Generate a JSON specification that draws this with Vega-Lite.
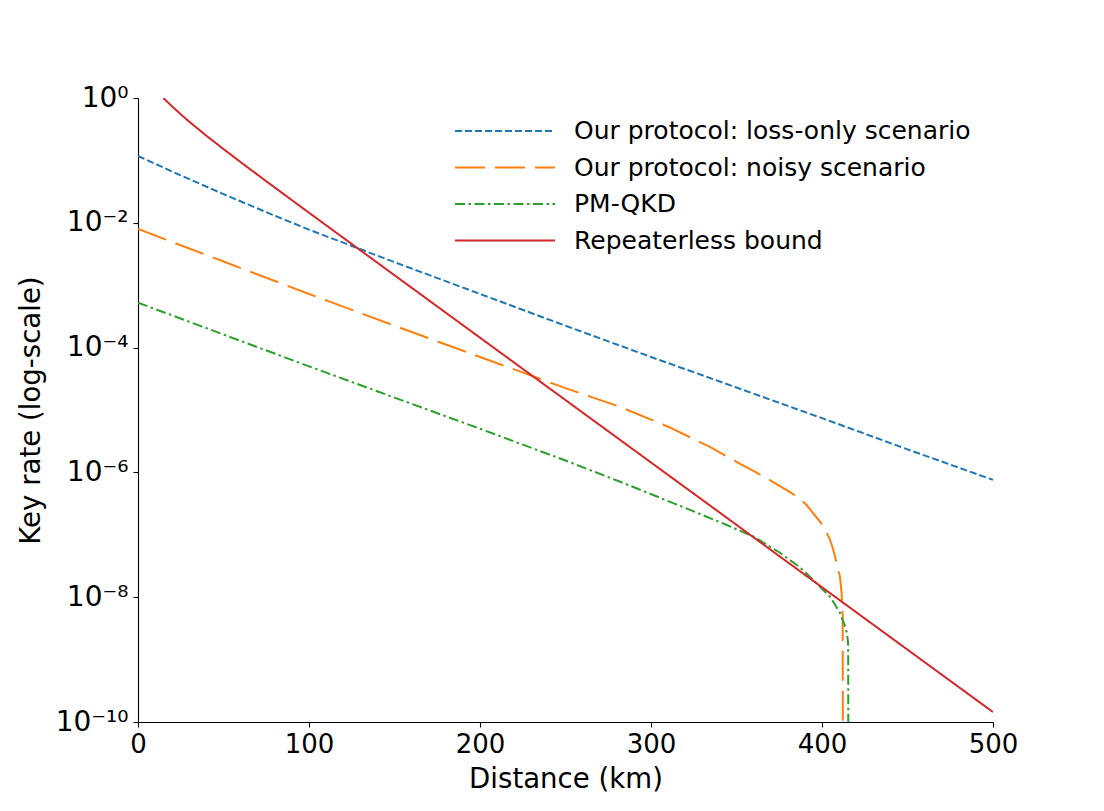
{
  "$schema": "https://vega.github.io/schema/vega-lite/v6.json",
  "width": 855,
  "height": 624,
  "autosize": "none",
  "padding": {"left": 138, "top": 98, "right": 111, "bottom": 89},
  "background": "white",
  "config": {
    "view": {"stroke": null},
    "font": "DejaVu Sans",
    "axis": {
      "grid": false,
      "domainColor": "black",
      "domainWidth": 1.1,
      "tickColor": "black",
      "tickWidth": 1.1,
      "tickSize": 5,
      "labelFont": "DejaVu Sans",
      "labelFontSize": 26,
      "labelColor": "black",
      "titleFont": "DejaVu Sans",
      "titleFontSize": 27.6,
      "titleFontWeight": "normal",
      "titleColor": "black"
    },
    "legend": {
      "labelFont": "DejaVu Sans",
      "labelFontSize": 25,
      "labelColor": "black",
      "symbolType": "stroke",
      "symbolSize": 10000,
      "symbolStrokeWidth": 2,
      "clipHeight": 30,
      "rowPadding": 6.5,
      "labelOffset": 18,
      "padding": 0,
      "labelLimit": 600
    }
  },
  "data": {
    "values": [
      {"series": "Our protocol: loss-only scenario", "d": 0, "k": 0.1175},
      {"series": "Our protocol: loss-only scenario", "d": 25, "k": 0.0575},
      {"series": "Our protocol: loss-only scenario", "d": 50, "k": 0.0288},
      {"series": "Our protocol: loss-only scenario", "d": 75, "k": 0.01479},
      {"series": "Our protocol: loss-only scenario", "d": 100, "k": 7.76e-3},
      {"series": "Our protocol: loss-only scenario", "d": 150, "k": 2.34e-3},
      {"series": "Our protocol: loss-only scenario", "d": 200, "k": 7.24e-4},
      {"series": "Our protocol: loss-only scenario", "d": 250, "k": 2.24e-4},
      {"series": "Our protocol: loss-only scenario", "d": 300, "k": 7.08e-5},
      {"series": "Our protocol: loss-only scenario", "d": 350, "k": 2.29e-5},
      {"series": "Our protocol: loss-only scenario", "d": 400, "k": 7.41e-6},
      {"series": "Our protocol: loss-only scenario", "d": 450, "k": 2.34e-6},
      {"series": "Our protocol: loss-only scenario", "d": 500, "k": 7.59e-7},

      {"series": "Our protocol: noisy scenario", "d": 0, "k": 7.94e-3},
      {"series": "Our protocol: noisy scenario", "d": 50, "k": 2.40e-3},
      {"series": "Our protocol: noisy scenario", "d": 100, "k": 7.24e-4},
      {"series": "Our protocol: noisy scenario", "d": 150, "k": 2.24e-4},
      {"series": "Our protocol: noisy scenario", "d": 200, "k": 7.08e-5},
      {"series": "Our protocol: noisy scenario", "d": 250, "k": 2.24e-5},
      {"series": "Our protocol: noisy scenario", "d": 282, "k": 1.12e-5},
      {"series": "Our protocol: noisy scenario", "d": 311, "k": 5.25e-6},
      {"series": "Our protocol: noisy scenario", "d": 335, "k": 2.51e-6},
      {"series": "Our protocol: noisy scenario", "d": 350, "k": 1.48e-6},
      {"series": "Our protocol: noisy scenario", "d": 362, "k": 9.8e-7},
      {"series": "Our protocol: noisy scenario", "d": 370, "k": 7.4e-7},
      {"series": "Our protocol: noisy scenario", "d": 377.4, "k": 5.62e-7},
      {"series": "Our protocol: noisy scenario", "d": 382, "k": 4.7e-7},
      {"series": "Our protocol: noisy scenario", "d": 387, "k": 3.80e-7},
      {"series": "Our protocol: noisy scenario", "d": 391, "k": 3.0e-7},
      {"series": "Our protocol: noisy scenario", "d": 395, "k": 2.19e-7},
      {"series": "Our protocol: noisy scenario", "d": 398, "k": 1.74e-7},
      {"series": "Our protocol: noisy scenario", "d": 401, "k": 1.35e-7},
      {"series": "Our protocol: noisy scenario", "d": 404.7, "k": 8.32e-8},
      {"series": "Our protocol: noisy scenario", "d": 406.6, "k": 5.75e-8},
      {"series": "Our protocol: noisy scenario", "d": 408.6, "k": 3.47e-8},
      {"series": "Our protocol: noisy scenario", "d": 410.5, "k": 2.14e-8},
      {"series": "Our protocol: noisy scenario", "d": 411.5, "k": 1.15e-8},
      {"series": "Our protocol: noisy scenario", "d": 412.1, "k": 4.9e-9},
      {"series": "Our protocol: noisy scenario", "d": 412.25, "k": 1e-12},

      {"series": "PM-QKD", "d": 0, "k": 5.25e-4},
      {"series": "PM-QKD", "d": 50, "k": 1.62e-4},
      {"series": "PM-QKD", "d": 100, "k": 5.01e-5},
      {"series": "PM-QKD", "d": 150, "k": 1.58e-5},
      {"series": "PM-QKD", "d": 200, "k": 5.01e-6},
      {"series": "PM-QKD", "d": 250, "k": 1.55e-6},
      {"series": "PM-QKD", "d": 282, "k": 7.08e-7},
      {"series": "PM-QKD", "d": 321, "k": 2.63e-7},
      {"series": "PM-QKD", "d": 345, "k": 1.41e-7},
      {"series": "PM-QKD", "d": 360, "k": 9.33e-8},
      {"series": "PM-QKD", "d": 375, "k": 5.25e-8},
      {"series": "PM-QKD", "d": 387, "k": 3.02e-8},
      {"series": "PM-QKD", "d": 394, "k": 2.0e-8},
      {"series": "PM-QKD", "d": 399, "k": 1.45e-8},
      {"series": "PM-QKD", "d": 405, "k": 1.0e-8},
      {"series": "PM-QKD", "d": 410.5, "k": 5.62e-9},
      {"series": "PM-QKD", "d": 413, "k": 3.7e-9},
      {"series": "PM-QKD", "d": 414.6, "k": 2.69e-9},
      {"series": "PM-QKD", "d": 415.3, "k": 1.78e-9},
      {"series": "PM-QKD", "d": 415.5, "k": 1e-12},

      {"series": "Repeaterless bound", "d": 14.8, "k": 1.0},
      {"series": "Repeaterless bound", "d": 20, "k": 0.732},
      {"series": "Repeaterless bound", "d": 25, "k": 0.548},
      {"series": "Repeaterless bound", "d": 30, "k": 0.417},
      {"series": "Repeaterless bound", "d": 40, "k": 0.248},
      {"series": "Repeaterless bound", "d": 50, "k": 0.152},
      {"series": "Repeaterless bound", "d": 60, "k": 0.094},
      {"series": "Repeaterless bound", "d": 75, "k": 0.0463},
      {"series": "Repeaterless bound", "d": 100, "k": 0.0145},
      {"series": "Repeaterless bound", "d": 150, "k": 1.443e-3},
      {"series": "Repeaterless bound", "d": 200, "k": 1.443e-4},
      {"series": "Repeaterless bound", "d": 250, "k": 1.443e-5},
      {"series": "Repeaterless bound", "d": 300, "k": 1.443e-6},
      {"series": "Repeaterless bound", "d": 350, "k": 1.443e-7},
      {"series": "Repeaterless bound", "d": 400, "k": 1.443e-8},
      {"series": "Repeaterless bound", "d": 450, "k": 1.443e-9},
      {"series": "Repeaterless bound", "d": 500, "k": 1.443e-10}
    ]
  },
  "mark": {"type": "line", "strokeWidth": 2, "clip": true, "strokeCap": "butt"},
  "encoding": {
    "x": {
      "field": "d",
      "type": "quantitative",
      "title": "Distance (km)",
      "scale": {"domain": [0, 500], "nice": false, "zero": false},
      "axis": {"values": [0, 100, 200, 300, 400, 500], "labelPadding": 4, "titlePadding": 8, "labelFlush": false}
    },
    "y": {
      "field": "k",
      "type": "quantitative",
      "title": "Key rate (log-scale)",
      "scale": {"type": "log", "domain": [1e-10, 1], "nice": false},
      "axis": {
        "values": [1, 1e-2, 1e-4, 1e-6, 1e-8, 1e-10],
        "labelPadding": 5,
        "labelFontSize": 28,
        "titlePadding": 10,
        "labelFlush": false,
        "labelExpr": "datum.value > 0.5 ? '10⁰' : datum.value > 5e-3 ? '10⁻²' : datum.value > 5e-5 ? '10⁻⁴' : datum.value > 5e-7 ? '10⁻⁶' : datum.value > 5e-9 ? '10⁻⁸' : '10⁻¹⁰'"
      }
    },
    "color": {
      "field": "series",
      "type": "nominal",
      "scale": {
        "domain": ["Our protocol: loss-only scenario", "Our protocol: noisy scenario", "PM-QKD", "Repeaterless bound"],
        "range": ["#1f77b4", "#ff7f0e", "#2ca02c", "#d62728"]
      },
      "legend": {"title": null, "orient": "none", "legendX": 316, "legendY": 18}
    },
    "strokeDash": {
      "field": "series",
      "type": "nominal",
      "scale": {
        "domain": ["Our protocol: loss-only scenario", "Our protocol: noisy scenario", "PM-QKD", "Repeaterless bound"],
        "range": [[7, 3], [30, 10], [10, 3.5, 2.5, 3.5], [1, 0]]
      },
      "legend": {"title": null, "orient": "none", "legendX": 316, "legendY": 18}
    }
  }
}
